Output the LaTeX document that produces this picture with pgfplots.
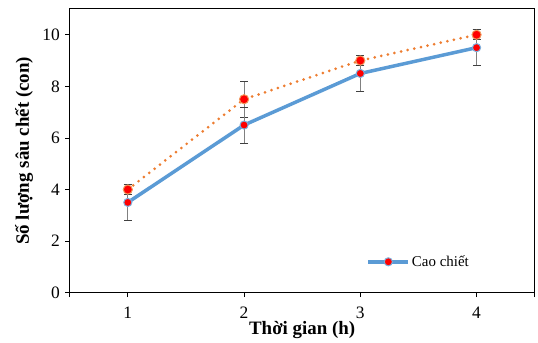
\documentclass[border=0pt]{standalone}
\usepackage{fontspec}
\setmainfont{Liberation Serif}
\usepackage{pgfplots}
\pgfplotsset{compat=1.18}
\definecolor{cblue}{RGB}{91,155,213}
\definecolor{corange}{RGB}{237,125,49}
\definecolor{cred}{RGB}{255,0,0}
\begin{document}
\begin{tikzpicture}
\begin{axis}[
  scale only axis,
  width=467bp, height=285bp,
  at={(0,0)}, anchor=south west,
  xmin=0.5, xmax=4.5, ymin=0, ymax=11,
  xtick={0.5,1,2,3,4,4.5},
  xticklabels={,1,2,3,4,},
  ytick={0,2,4,6,8,10},
  tick pos=left, tick align=outside,
  major tick length=4.5bp,
  every tick/.style={black, line width=0.8bp},
  axis line style={black, line width=1bp},
  /pgf/number format/assume math mode=true,
  ticklabel style={font=\fontsize{17.5bp}{20bp}\selectfont},
  xticklabel style={yshift=-6bp},
  yticklabel style={xshift=-2bp},
  xlabel={\textbf{Thời gian (h)}},
  ylabel={\textbf{Số lượng sâu chết (con)}},
  label style={font=\fontsize{19bp}{22bp}\selectfont},
  xlabel style={at={(axis description cs:0.5,-0.1474)}, anchor=base},
  ylabel style={at={(axis description cs:-0.0878,0.5)}, anchor=base},
  legend style={draw=none, fill=none, at={(axis description cs:0.863,0.109)}, anchor=east,
    inner sep=0pt, font=\fontsize{15bp}{18bp}\selectfont},
  legend cell align=left,
  legend image code/.code={%
    \draw[#1, mark repeat=2, mark phase=2] plot coordinates {(0bp,0bp) (20bp,0bp) (40bp,0bp)};},
]
\addplot[forget plot, corange, line width=3bp, line cap=round, dash pattern=on 0pt off 6.8bp,
  mark=*, mark size=4.6bp, mark options={solid, fill=cred, draw=corange!80, line width=1bp},
  error bars/.cd, y dir=both, y explicit,
  error bar style={solid, line width=1bp, black!50, line cap=butt},
  error mark options={solid, black!75, line width=0.9bp, mark size=4bp, rotate=90}]
  coordinates {(1,4.0) +- (0,0.2) (2,7.5) +- (0,0.7) (3,9.0) +- (0,0.2) (4,10.0) +- (0,0.2)};
\addplot[cblue, line width=3.5bp, line join=round,
  mark=*, mark size=4.1bp, mark options={solid, fill=cred, draw=cblue!80, line width=1bp},
  error bars/.cd, y dir=both, y explicit,
  error bar style={solid, line width=1bp, black!50, line cap=butt},
  error mark options={solid, black!75, line width=0.9bp, mark size=4bp, rotate=90}]
  coordinates {(1,3.5) +- (0,0.7) (2,6.5) +- (0,0.7) (3,8.5) +- (0,0.7) (4,9.5) +- (0,0.7)};
\addlegendentry{Cao chiết}
\end{axis}
\path (-70bp,-45bp) rectangle (468bp,294bp);
\end{tikzpicture}
\end{document}
